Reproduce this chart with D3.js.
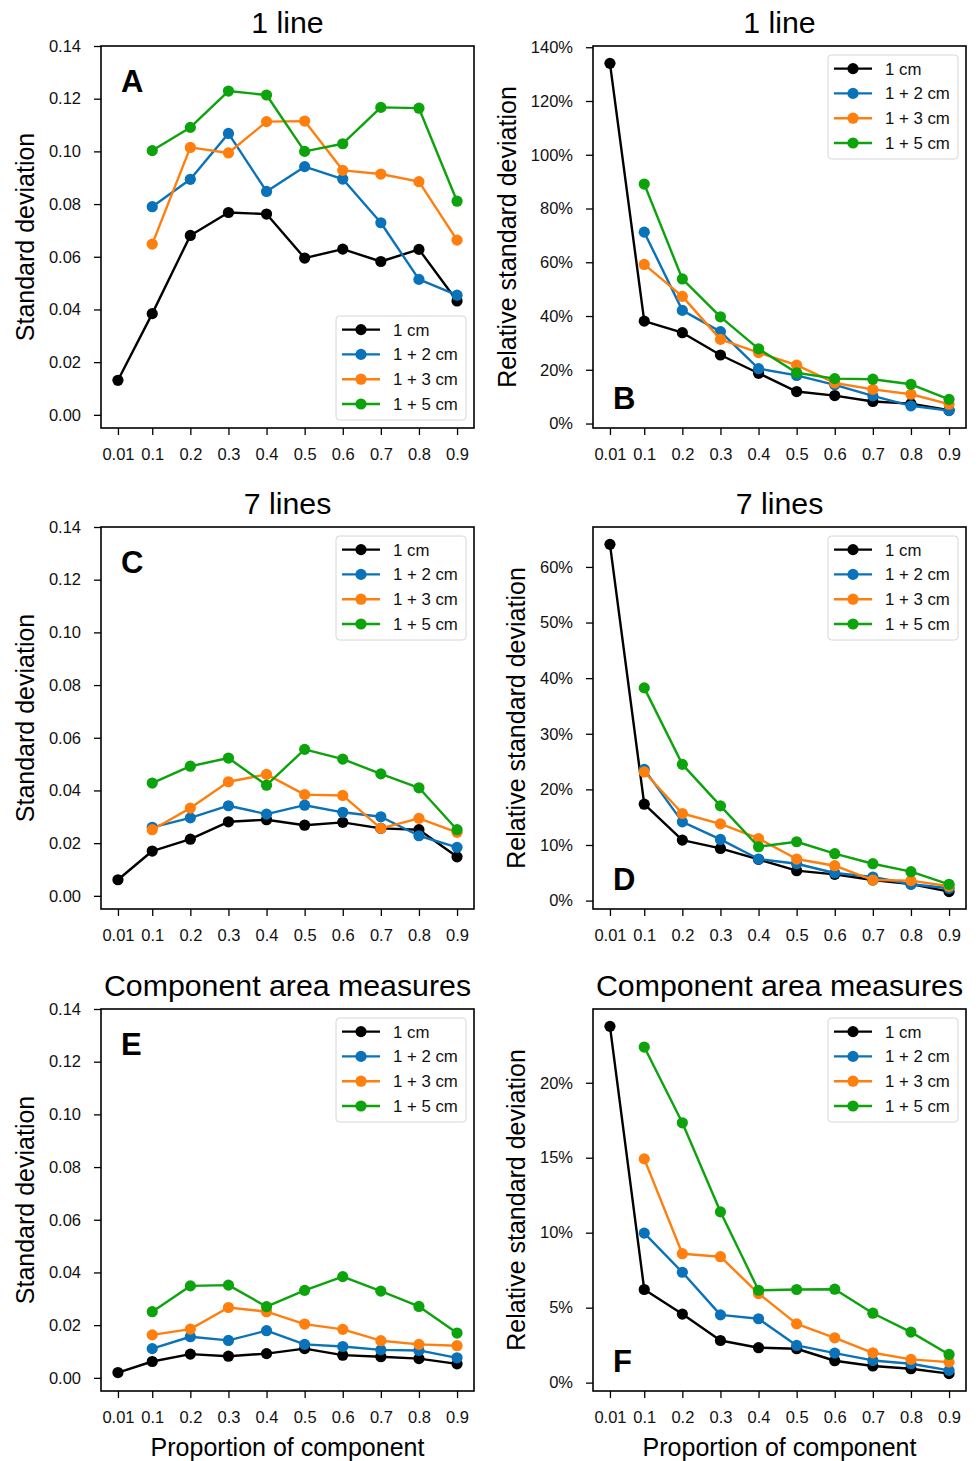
<!DOCTYPE html>
<html>
<head>
<meta charset="utf-8">
<script src="https://cdn.jsdelivr.net/npm/d3@7"></script>
<style>
  html, body { margin: 0; padding: 0; background: #fff; }
  svg { display: block; font-family: "Liberation Sans", Arial, Helvetica, sans-serif; }
</style>
</head>
<body>
<svg id="chart" width="979" height="1461"></svg>
<script>
// ---------- DATA ----------
const xTicks = [0.01, 0.1, 0.2, 0.3, 0.4, 0.5, 0.6, 0.7, 0.8, 0.9];
const xTickLabels = ["0.01", "0.1", "0.2", "0.3", "0.4", "0.5", "0.6", "0.7", "0.8", "0.9"];
const seriesNames = ["1 cm", "1 + 2 cm", "1 + 3 cm", "1 + 5 cm"];
const seriesColors = ["#000000", "#0a72b8", "#ff7f0e", "#0ca30c"];

// Panel A: 1 line, standard deviation
const a_1cm = [0.0131, 0.0384, 0.0681, 0.0768, 0.0762, 0.0595, 0.0629, 0.0582, 0.0628, 0.0432];
const a_2cm = [0.0790, 0.0894, 0.1068, 0.0848, 0.0942, 0.0895, 0.0729, 0.0514, 0.0454];
const a_3cm = [0.0648, 0.1015, 0.0994, 0.1113, 0.1115, 0.0928, 0.0914, 0.0885, 0.0663];
const a_5cm = [0.1003, 0.1091, 0.1229, 0.1214, 0.1000, 0.1029, 0.1167, 0.1164, 0.0811];
// Panel B: 1 line, relative SD (%)
const b_1cm = [134.0, 38.1, 33.8, 25.5, 18.7, 11.9, 10.4, 8.2, 7.4, 4.95];
const b_2cm = [71.2, 42.1, 34.2, 20.4, 17.9, 14.4, 10.3, 6.6, 4.8];
const b_3cm = [59.2, 47.3, 31.3, 26.4, 21.7, 15.1, 12.7, 10.9, 7.2];
const b_5cm = [89.1, 53.8, 39.7, 27.8, 18.9, 16.7, 16.5, 14.6, 9.0];
// Panel C: 7 lines, standard deviation
const c_1cm = [0.0061, 0.0170, 0.0215, 0.0281, 0.0289, 0.0268, 0.0279, 0.0256, 0.0251, 0.0148];
const c_2cm = [0.0260, 0.0296, 0.0342, 0.0310, 0.0344, 0.0317, 0.0300, 0.0228, 0.0184];
const c_3cm = [0.0251, 0.0333, 0.0433, 0.0461, 0.0384, 0.0381, 0.0256, 0.0294, 0.0241];
const c_5cm = [0.0428, 0.0492, 0.0523, 0.0420, 0.0556, 0.0519, 0.0463, 0.0410, 0.0251];
// Panel D: 7 lines, relative SD (%)
const d_1cm = [64.06, 17.33, 10.88, 9.38, 7.41, 5.38, 4.72, 3.71, 2.99, 1.61];
const d_2cm = [23.6, 14.16, 11.0, 7.47, 6.63, 4.96, 4.24, 2.93, 2.21];
const d_3cm = [23.13, 15.66, 13.8, 11.17, 7.47, 6.27, 3.7, 3.59, 2.57];
const d_5cm = [38.25, 24.5, 17.03, 9.68, 10.58, 8.43, 6.63, 5.2, 2.93];
// Panel E: component area measures, standard deviation
const e_1cm = [0.0020, 0.0062, 0.0090, 0.0082, 0.0092, 0.0111, 0.0086, 0.0080, 0.0073, 0.0053];
const e_2cm = [0.0111, 0.0156, 0.0142, 0.0179, 0.0127, 0.0119, 0.0106, 0.0104, 0.0076];
const e_3cm = [0.0163, 0.0185, 0.0267, 0.0251, 0.0204, 0.0184, 0.0141, 0.0127, 0.0122];
const e_5cm = [0.0251, 0.0349, 0.0352, 0.0270, 0.0332, 0.0384, 0.0329, 0.0271, 0.0170];
// Panel F: component area measures, relative SD (%)
const f_1cm = [23.76, 6.21, 4.57, 2.81, 2.33, 2.26, 1.46, 1.11, 0.93, 0.60];
const f_2cm = [9.97, 7.36, 4.52, 4.26, 2.48, 1.97, 1.48, 1.26, 0.82];
const f_3cm = [14.92, 8.6, 8.4, 5.94, 3.92, 2.99, 1.99, 1.55, 1.37];
const f_5cm = [22.38, 17.33, 11.39, 6.16, 6.21, 6.23, 4.63, 3.37, 1.88];

const sdTicks = [0, 0.02, 0.04, 0.06, 0.08, 0.10, 0.12, 0.14];
const bTicks = [0, 20, 40, 60, 80, 100, 120, 140];
const dTicks = [0, 10, 20, 30, 40, 50, 60];
const fTicks = [0, 5, 10, 15, 20];

const panelTitles = ["1 line", "1 line", "7 lines", "7 lines", "Component area measures", "Component area measures"];
const panelLetters = ["A", "B", "C", "D", "E", "F"];

// ---------- LAYOUT ----------
const colX = [101, 593];
const rowY = [46, 527, 1009];
const W = 373, H = 382;
const svg = d3.select("#chart");

const panels = [
  { series: [a_1cm, a_2cm, a_3cm, a_5cm], ticks: sdTicks, pct: false, legend: "lr", letterPos: "top" },
  { series: [b_1cm, b_2cm, b_3cm, b_5cm], ticks: bTicks, pct: true, legend: "ur", letterPos: "bottom" },
  { series: [c_1cm, c_2cm, c_3cm, c_5cm], ticks: sdTicks, pct: false, legend: "ur", letterPos: "top" },
  { series: [d_1cm, d_2cm, d_3cm, d_5cm], ticks: dTicks, pct: true, legend: "ur", letterPos: "bottom" },
  { series: [e_1cm, e_2cm, e_3cm, e_5cm], ticks: sdTicks, pct: false, legend: "ur", letterPos: "top" },
  { series: [f_1cm, f_2cm, f_3cm, f_5cm], ticks: fTicks, pct: true, legend: "ur", letterPos: "bottom" }
];

const xMin = 0.01, xMax = 0.9, xPad = (xMax - xMin) * 0.05;

panels.forEach((p, i) => {
  const col = i % 2, row = Math.floor(i / 2);
  const g = svg.append("g").attr("transform", `translate(${colX[col]},${rowY[row]})`);

  const x = d3.scaleLinear().domain([xMin - xPad, xMax + xPad]).range([0, W]);
  let yDomain;
  if (p.pct) {
    const all = p.series.flat();
    const lo = d3.min(all), hi = d3.max(all), m = (hi - lo) * 0.05;
    yDomain = [lo - m, hi + m];
  } else {
    yDomain = [-0.005, 0.14];
  }
  const y = d3.scaleLinear().domain(yDomain).range([H, 0]);

  // axes
  const xAxis = d3.axisBottom(x).tickValues(xTicks)
    .tickFormat((d, k) => xTickLabels[k]).tickSize(7).tickPadding(13);
  const gx = g.append("g").attr("transform", `translate(0,${H})`).call(xAxis);
  const yAxis = d3.axisLeft(y).tickValues(p.ticks)
    .tickFormat(d => p.pct ? d + "%" : d3.format(".2f")(d)).tickSize(7).tickPadding(13);
  const gy = g.append("g").call(yAxis);
  [gx, gy].forEach(a => {
    a.select(".domain").remove();
    a.selectAll(".tick line").attr("stroke", "#000").attr("stroke-width", 1.3);
    a.selectAll(".tick text").attr("fill", "#111").style("font-size", "16.5px")
      .style("font-family", "'Liberation Sans', Arial, Helvetica, sans-serif");
  });

  // frame
  g.append("rect").attr("x", 0).attr("y", 0).attr("width", W).attr("height", H)
    .attr("fill", "none").attr("stroke", "#000").attr("stroke-width", 1.6);

  // series
  const line = d3.line().x(d => x(d[0])).y(d => y(d[1]));
  p.series.forEach((vals, s) => {
    const xs = vals.length === xTicks.length ? xTicks : xTicks.slice(1);
    const pts = vals.map((v, k) => [xs[k], v]);
    g.append("path").datum(pts).attr("d", line)
      .attr("fill", "none").attr("stroke", seriesColors[s]).attr("stroke-width", 2.4)
      .attr("stroke-linejoin", "round");
    g.selectAll(null).data(pts).enter().append("circle")
      .attr("cx", d => x(d[0])).attr("cy", d => y(d[1])).attr("r", 5.6)
      .attr("fill", seriesColors[s]);
  });

  // panel letter
  g.append("text").text(panelLetters[i])
    .attr("x", 20).attr("y", p.letterPos === "top" ? 46 : H - 19.5)
    .attr("font-weight", "bold").attr("font-size", 31).attr("fill", "#000");

  // title
  g.append("text").text(panelTitles[i]).attr("x", W / 2).attr("y", -13)
    .attr("text-anchor", "middle").attr("font-size", 30.3).attr("fill", "#000");

  // y label
  let minLeft = 0;
  gy.selectAll(".tick text").each(function () {
    const bb = this.getBBox();
    minLeft = Math.min(minLeft, bb.x);
  });
  const yLab = p.pct ? "Relative standard deviation" : "Standard deviation";
  g.append("text").text(yLab)
    .attr("transform", `translate(${minLeft - 15},${H / 2}) rotate(-90)`)
    .attr("text-anchor", "middle").attr("font-size", 25).attr("fill", "#000");

  // x label on bottom row
  if (row === 2) {
    g.append("text").text("Proportion of component").attr("x", W / 2).attr("y", H + 65)
      .attr("text-anchor", "middle").attr("font-size", 25).attr("fill", "#000");
  }

  // legend
  const lw = 130, lh = 104;
  const lx = W - 8 - lw;
  const ly = p.legend === "lr" ? H - 8 - lh : 9;
  const lg = g.append("g").attr("transform", `translate(${lx},${ly})`);
  lg.append("rect").attr("width", lw).attr("height", lh).attr("rx", 3.5)
    .attr("fill", "#fff").attr("fill-opacity", 0.85).attr("stroke", "#d6d6d6").attr("stroke-width", 1);
  seriesNames.forEach((name, s) => {
    const cy = 13.6 + s * 24.8;
    lg.append("line").attr("x1", 6).attr("x2", 44).attr("y1", cy).attr("y2", cy)
      .attr("stroke", seriesColors[s]).attr("stroke-width", 2.4);
    lg.append("circle").attr("cx", 25).attr("cy", cy).attr("r", 5.6).attr("fill", seriesColors[s]);
    lg.append("text").text(name).attr("x", 57).attr("y", cy).attr("dy", "0.36em")
      .attr("font-size", 16.8).attr("fill", "#111");
  });
});
</script>
</body>
</html>
